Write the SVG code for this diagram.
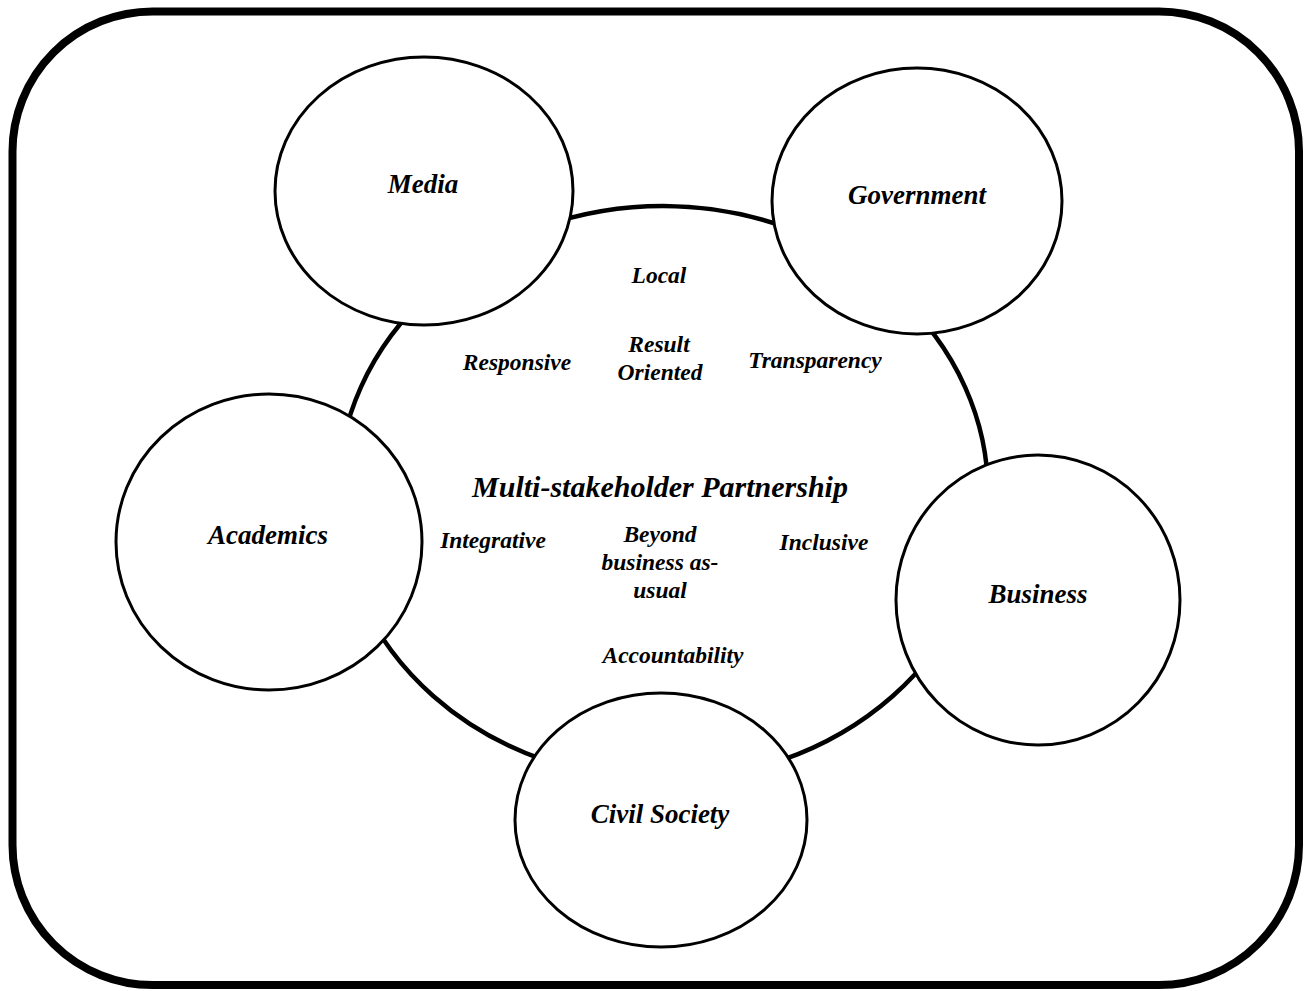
<svg xmlns="http://www.w3.org/2000/svg" width="1311" height="991" viewBox="0 0 1311 991">
  <style>
    .frame { fill: #ffffff; stroke: #000000; stroke-width: 8; }
    .ring { fill: none; stroke: #000000; stroke-width: 4.5; }
    .node { fill: #ffffff; stroke: #000000; stroke-width: 3; }
    text { font-family: "Liberation Serif", "Times New Roman", serif; font-style: italic; font-weight: bold; fill: #000000; text-anchor: middle; }
    .label { font-size: 27px; }
    .value { font-size: 23.5px; }
    .title { font-size: 30px; }
  </style>

  <!-- outer frame -->
  <rect class="frame" x="12.5" y="11.5" width="1286.5" height="973.5" rx="140" ry="140"/>

  <!-- ring linking the stakeholders -->
  <g id="connectors">
    <ellipse class="ring" cx="663" cy="493" rx="325" ry="287"/>
  </g>

  <!-- shared values inside the ring -->
  <g id="partnership">
    <text class="title" x="660" y="497">Multi-stakeholder Partnership</text>
    <text class="value" x="659" y="283">Local</text>
    <text class="value" x="659" y="352">Result</text>
    <text class="value" x="660" y="380">Oriented</text>
    <text class="value" x="517" y="370">Responsive</text>
    <text class="value" x="815" y="368">Transparency</text>
    <text class="value" x="493" y="548">Integrative</text>
    <text class="value" x="660" y="542">Beyond</text>
    <text class="value" x="660" y="570">business as-</text>
    <text class="value" x="660" y="598">usual</text>
    <text class="value" x="824" y="550">Inclusive</text>
    <text class="value" x="673" y="663">Accountability</text>
  </g>

  <g id="media">
    <ellipse class="node" cx="424" cy="191" rx="149" ry="134"/>
    <text class="label" x="423" y="193">Media</text>
  </g>

  <g id="government">
    <ellipse class="node" cx="917" cy="201" rx="145" ry="133"/>
    <text class="label" x="917" y="204">Government</text>
  </g>

  <g id="academics">
    <ellipse class="node" cx="269" cy="542" rx="153" ry="148"/>
    <text class="label" x="268" y="544">Academics</text>
  </g>

  <g id="business">
    <ellipse class="node" cx="1038" cy="600" rx="142" ry="145"/>
    <text class="label" x="1038" y="603">Business</text>
  </g>

  <g id="civil-society">
    <ellipse class="node" cx="661" cy="820" rx="146" ry="127"/>
    <text class="label" x="660" y="823">Civil Society</text>
  </g>
</svg>
